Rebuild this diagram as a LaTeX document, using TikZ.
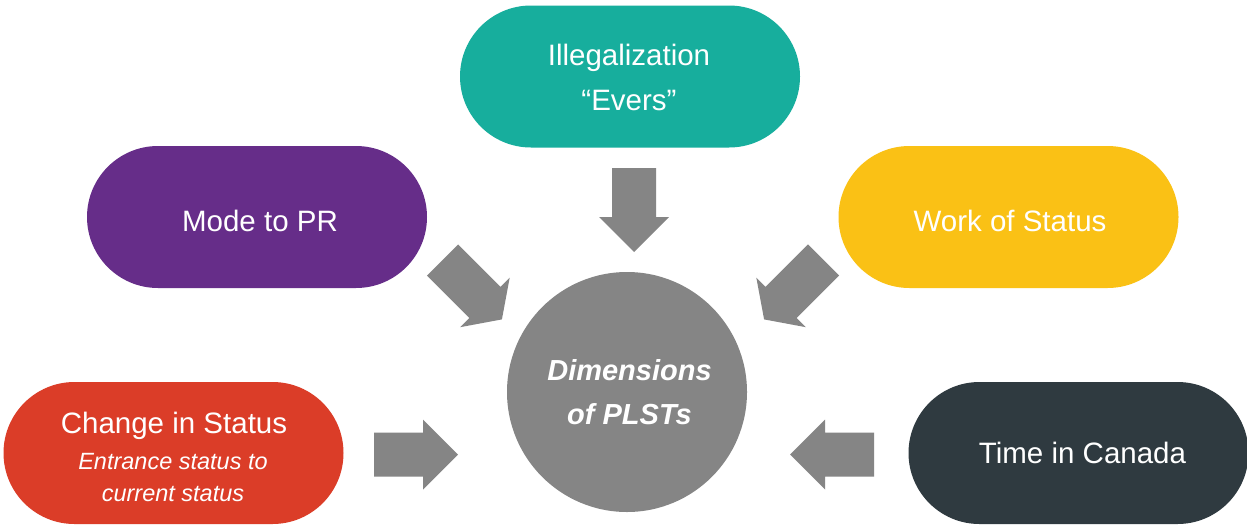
\documentclass[tikz,border=0pt]{standalone}
\usepackage{fontspec}
\setmainfont{Liberation Sans}
\usetikzlibrary{shapes.misc}
\definecolor{cteal}{HTML}{17AE9D}
\definecolor{cpurple}{HTML}{662D89}
\definecolor{cyellow}{HTML}{FAC115}
\definecolor{cred}{HTML}{DB3D28}
\definecolor{cdark}{HTML}{2F3A40}
\definecolor{cgray}{HTML}{858585}
\tikzset{
  pill/.style={rounded rectangle, minimum width=340pt, minimum height=142pt, inner sep=0pt, draw=none},
  lbl/.style={text=white, anchor=base, inner sep=0pt, align=center, font=\fontsize{29.5}{45}\selectfont},
  sublbl/.style={text=white, anchor=base, inner sep=0pt, align=center, font=\itshape\fontsize{23.5}{32}\selectfont},
  pics/blockarrow/.style={code={\fill[cgray] (0,-22) -- (49,-22) -- (49,-35) -- (84,0) -- (49,35) -- (49,22) -- (0,22) -- cycle;}},
  pics/diagarrow/.style={code={\fill[cgray] (0,-22) -- (60,-22) -- (60,-35) -- (84,0) -- (60,35) -- (60,22) -- (0,22) -- cycle;}},
}
\begin{document}
\begin{tikzpicture}[x=1pt,y=-1pt]
\useasboundingbox[fill=white] (0,0) rectangle (1247,525);
% pills
\node[pill, fill=cteal] (ill) at (630,76.5) {};
\node[pill, fill=cpurple] (mode) at (257,217) {};
\node[pill, fill=cyellow] (work) at (1008.5,217) {};
\node[pill, fill=cred] (change) at (173.5,453) {};
\node[pill, fill=cdark] (time) at (1078.5,453) {};
% center circle
\node[circle, fill=cgray, minimum size=240pt, inner sep=0pt] (dim) at (627,392) {};
% texts (base anchor = baseline of the last line)
\node[lbl] (tIll) at (629,110) {Illegalization\\“Evers”};
\node[lbl] (tMode) at (260,231) {Mode to PR};
\node[lbl] (tWork) at (1010,231) {Work of Status};
\node[lbl] (tTime) at (1082.5,463) {Time in Canada};
\node[lbl] (tChange) at (174,433) {Change in Status};
\node[sublbl] (tSub) at (173,501) {Entrance status to\\current status};
\node[lbl, font=\bfseries\itshape\fontsize{29}{44}\selectfont] (tDim) at (629.5,424) {Dimensions\\of PLSTs};
% block arrows
\pic (aTop) [rotate=-90] at (634,168) {blockarrow};
\pic (aLeft) at (374,454.5) {blockarrow};
\pic (aRight) [rotate=180] at (874,454.5) {blockarrow};
\pic (aDL) [rotate=-45] at (442.5,260) {diagarrow};
\pic (aDR) [rotate=-135] at (823.5,260) {diagarrow};
\end{tikzpicture}
\end{document}
